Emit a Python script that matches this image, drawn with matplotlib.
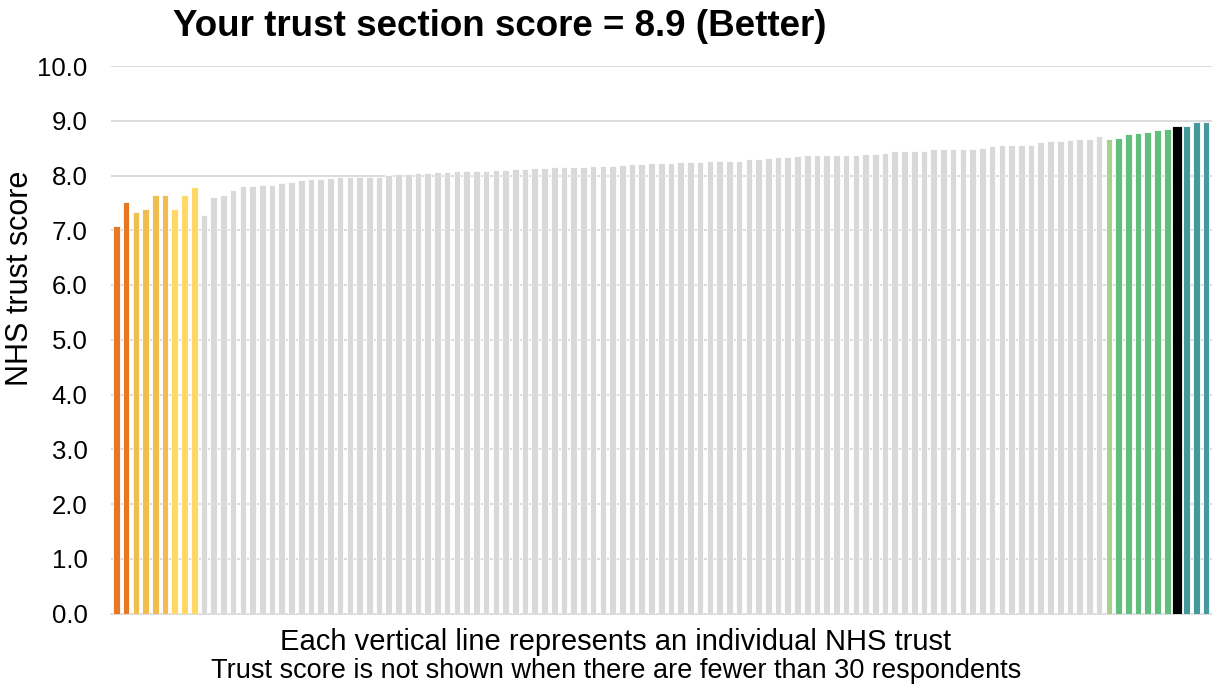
import matplotlib
matplotlib.use("Agg")
import matplotlib.pyplot as plt

plt.rcParams['font.family'] = ['Liberation Sans', 'DejaVu Sans']

# Data: NHS trust section scores (sorted within bands)
scores = [
    7.07, 7.52, 7.33, 7.39, 7.64, 7.65, 7.39, 7.64, 7.79,
    7.28, 7.61, 7.65, 7.73, 7.81, 7.81, 7.83, 7.83, 7.86, 7.89, 7.92,
    7.94, 7.94, 7.96, 7.98, 7.98, 7.98, 7.98, 7.98, 8.01, 8.02,
    8.03, 8.04, 8.04, 8.07, 8.07, 8.09, 8.09, 8.09, 8.09, 8.10,
    8.10, 8.11, 8.12, 8.13, 8.13, 8.15, 8.16, 8.16, 8.16, 8.17,
    8.17, 8.18, 8.20, 8.21, 8.21, 8.23, 8.23, 8.23, 8.24, 8.24,
    8.25, 8.26, 8.27, 8.27, 8.27, 8.31, 8.31, 8.32, 8.33, 8.33,
    8.35, 8.37, 8.37, 8.37, 8.38, 8.38, 8.38, 8.40, 8.40, 8.41,
    8.44, 8.44, 8.44, 8.45, 8.48, 8.48, 8.48, 8.48, 8.49, 8.51,
    8.53, 8.55, 8.55, 8.55, 8.55, 8.62, 8.63, 8.63, 8.65, 8.66,
    8.67, 8.72,
    8.67, 8.68, 8.76, 8.77, 8.79, 8.83, 8.85,
    8.91,
    8.90, 8.98, 8.98,
]
# Band of each trust (by position)
bands = (["worst"] * 2 + ["worse"] * 4 + ["somewhat_worse"] * 3 +
         ["same"] * 93 + ["somewhat_better"] * 1 + ["better"] * 6 +
         ["this_trust"] * 1 + ["best"] * 3)

band_colors = {
    "worst": "#E87722",
    "worse": "#F0BE4E",
    "somewhat_worse": "#FFD966",
    "same": "#D9D9D9",
    "somewhat_better": "#A9D08E",
    "better": "#63BE7B",
    "this_trust": "#000000",
    "best": "#46999A",
}

title = "Your trust section score = 8.9 (Better)"
ylabel = "NHS trust score"
footnote1 = "Each vertical line represents an individual NHS trust"
footnote2 = "Trust score is not shown when there are fewer than 30 respondents"
yticks = [0, 1, 2, 3, 4, 5, 6, 7, 8, 9, 10]

W, H = 1212, 684
fig = plt.figure(figsize=(W / 100, H / 100), dpi=100)
ax = fig.add_axes([111 / W, 1 - 613.5 / H, (1212 - 111) / W, (613.5 - 66) / H])

x = list(range(len(scores)))
colors = [band_colors[b] for b in bands]
widths = [1.08 if b == "this_trust" else 0.68 for b in bands]
ax.bar(x, scores, width=widths, color=colors, edgecolor="white",
       linewidth=0.6, zorder=3)

ax.set_ylim(0, 10)
ax.set_xlim(-0.55, len(scores) - 0.4)
ax.set_yticks(yticks)
ax.set_yticklabels([f"{v:.1f}" for v in yticks], fontsize=18.5)
ax.set_xticks([])
ax.tick_params(axis='y', length=0, pad=17)
ax.grid(axis='y', color="#D9D9D9", linewidth=1.3, zorder=0)
for s in ["left", "right", "top"]:
    ax.spines[s].set_visible(False)
ax.spines["bottom"].set_color("#D9D9D9")
ax.spines["bottom"].set_linewidth(1.3)

fig.text(500 / W, 1 - 26 / H, title, fontsize=26.5, fontweight="bold",
         ha="center", va="center")
fig.text(20 / W, 1 - 278 / H, ylabel, fontsize=22, rotation=90,
         ha="center", va="center")
fig.text(616 / W, 1 - 650 / H, footnote1, fontsize=21, ha="center",
         va="baseline")
fig.text(616 / W, 1 - 677.5 / H, footnote2, fontsize=19.5, ha="center",
         va="baseline")

fig.savefig("out.png", dpi=100)
